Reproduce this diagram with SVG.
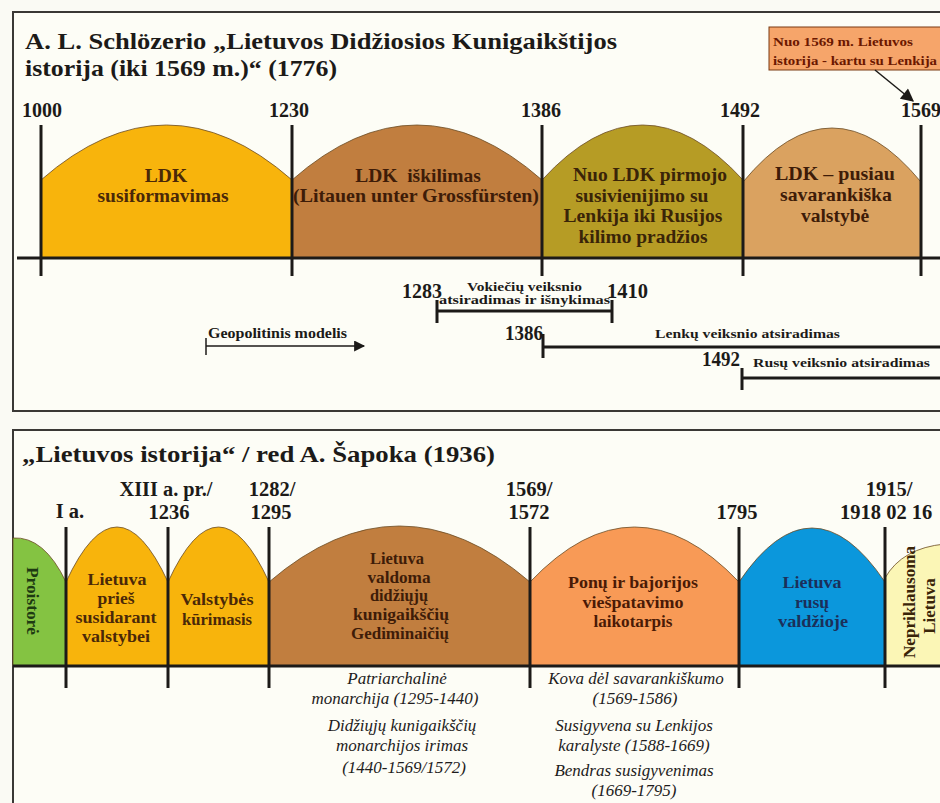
<svg xmlns="http://www.w3.org/2000/svg" width="940" height="803" viewBox="0 0 940 803">
<defs>
<style>
.t{font-family:"Liberation Serif","Times New Roman",serif;font-weight:bold;}
.ttl{font-size:24px;fill:#1c1a18;}
.yr{font-size:20px;fill:#1c1a18;}
.yb{font-size:20.5px;fill:#1c1a18;}
.at{font-size:19.5px;text-anchor:middle;}
.bt{font-size:17.5px;text-anchor:middle;}
.bs{font-size:16px;text-anchor:middle;}
.sm{font-size:11.5px;fill:#1c1a18;}
.it{font-family:"Liberation Serif","Times New Roman",serif;font-style:italic;font-size:17px;fill:#1e1c1c;text-anchor:middle;}
.ln{stroke:#1c1a18;stroke-width:3;fill:none;}
.thin{stroke:#1c1a18;stroke-width:1.5;fill:none;}
.arch{stroke:#6a4a22;stroke-width:0.8;}
.panel{fill:#fdfdf6;stroke:#3a3835;stroke-width:2;}
</style>
<marker id="ah" viewBox="0 0 10 10" refX="9" refY="5" markerWidth="14" markerHeight="13" markerUnits="userSpaceOnUse" orient="auto">
<path d="M0,0 L10,5 L0,10 Z" fill="#1c1a18"/>
</marker>
<marker id="ah2" viewBox="0 0 10 10" refX="9" refY="5" markerWidth="13" markerHeight="11" markerUnits="userSpaceOnUse" orient="auto">
<path d="M0,0 L10,5 L0,10 Z" fill="#1c1a18"/>
</marker>
</defs>
<rect x="0" y="0" width="940" height="803" fill="#fafaf4"/>

<!-- Panel 1 -->
<g id="panel-schlozer">
<rect class="panel" x="13" y="12" width="940" height="399"/>
<text class="t ttl" x="25" y="49" textLength="592" lengthAdjust="spacingAndGlyphs">A. L. Schlözerio „Lietuvos Didžiosios Kunigaikštijos</text>
<text class="t ttl" x="25" y="76" textLength="312" lengthAdjust="spacingAndGlyphs">istorija (iki 1569 m.)“ (1776)</text>
</g>

<g id="node-callout">
<rect x="769" y="27" width="175" height="43" fill="#f6a56a" stroke="#7a3a12" stroke-width="1"/>
<text class="t" x="773" y="46" font-size="12.5" fill="#6b1800" textLength="140" lengthAdjust="spacingAndGlyphs">Nuo 1569 m. Lietuvos</text>
<text class="t" x="773" y="65" font-size="12.5" fill="#6b1800" textLength="164" lengthAdjust="spacingAndGlyphs">istorija - kartu su Lenkija</text>
</g>

<g id="node-ldk-susiformavimas">
<path class="arch" d="M41,258 V180 Q166.5,70 292,180 V258 Z" fill="#f8b40c"/>
<text class="t at" x="166" y="182" fill="#4a2808">LDK</text>
<text class="t at" x="163" y="202" fill="#4a2808" textLength="131" lengthAdjust="spacingAndGlyphs">susiformavimas</text>
</g>
<g id="node-ldk-iskilimas">
<path class="arch" d="M292,258 V180 Q417,70 542,180 V258 Z" fill="#c17e3f"/>
<text class="t at" x="418" y="182" fill="#3e1c08" xml:space="preserve">LDK  iškilimas</text>
<text class="t at" x="416" y="202" fill="#3e1c08" textLength="246" lengthAdjust="spacingAndGlyphs">(Litauen unter Grossfürsten)</text>
</g>
<g id="node-nuo-ldk">
<path class="arch" d="M542,258 V180 Q642.5,70 743,180 V258 Z" fill="#b69c25"/>
<text class="t at" x="650" y="181" fill="#3a2408" textLength="154" lengthAdjust="spacingAndGlyphs">Nuo LDK pirmojo</text>
<text class="t at" x="642" y="202" fill="#3a2408" textLength="133" lengthAdjust="spacingAndGlyphs">susivienijimo su</text>
<text class="t at" x="643" y="222" fill="#3a2408" textLength="159" lengthAdjust="spacingAndGlyphs">Lenkija iki Rusijos</text>
<text class="t at" x="643" y="243" fill="#3a2408" textLength="129" lengthAdjust="spacingAndGlyphs">kilimo pradžios</text>
</g>
<g id="node-pusiau">
<path class="arch" d="M743,258 V182 Q832,74 921,182 V258 Z" fill="#daa260"/>
<text class="t at" x="835" y="180" fill="#3e1c08" textLength="120" lengthAdjust="spacingAndGlyphs">LDK – pusiau</text>
<text class="t at" x="836" y="201" fill="#3e1c08" textLength="112" lengthAdjust="spacingAndGlyphs">savarankiška</text>
<text class="t at" x="835" y="222" fill="#3e1c08">valstybė</text>
</g>

<g id="labels-years-top">
<text class="t yr" x="42" y="117" text-anchor="middle">1000</text>
<text class="t yr" x="289" y="117" text-anchor="middle">1230</text>
<text class="t yr" x="541" y="117" text-anchor="middle">1386</text>
<text class="t yr" x="740" y="117" text-anchor="middle">1492</text>
<text class="t yr" x="921" y="117" text-anchor="middle">1569</text>
</g>

<g id="node-vokieciu">
<text class="t yr" x="402" y="298" textLength="40" lengthAdjust="spacingAndGlyphs">1283</text>
<text class="t sm" x="467" y="291" textLength="115" lengthAdjust="spacingAndGlyphs">Vokiečių veiksnio</text>
<text class="t sm" x="439" y="304" textLength="171" lengthAdjust="spacingAndGlyphs">atsiradimas ir išnykimas</text>
<text class="t yr" x="607" y="298" textLength="41" lengthAdjust="spacingAndGlyphs">1410</text>
</g>
<g id="node-lenku">
<text class="t yr" x="505" y="340" textLength="38" lengthAdjust="spacingAndGlyphs">1386</text>
<text class="t sm" x="655" y="338" font-size="12" textLength="185" lengthAdjust="spacingAndGlyphs">Lenkų veiksnio atsiradimas</text>
</g>
<g id="node-rusu">
<text class="t yr" x="702" y="366" textLength="38" lengthAdjust="spacingAndGlyphs">1492</text>
<text class="t sm" x="753" y="367" font-size="12" textLength="177" lengthAdjust="spacingAndGlyphs">Rusų veiksnio atsiradimas</text>
</g>
<g id="node-geopolitinis">
<text class="t" x="208" y="338" font-size="14.5" fill="#1c1a18" textLength="139" lengthAdjust="spacingAndGlyphs">Geopolitinis modelis</text>
</g>

<!-- Panel 2 -->
<g id="panel-sapoka">
<rect class="panel" x="13" y="430" width="940" height="390"/>
<text class="t ttl" x="22" y="462" textLength="473" lengthAdjust="spacingAndGlyphs">„Lietuvos istorija“ / red A. Šapoka (1936)</text>
</g>

<g id="node-proistore">
<path class="arch" d="M13,666 V538 Q44,536 66,582 V666 Z" fill="#84c342"/>
<text class="t" transform="translate(27,601) rotate(90)" font-size="17" fill="#1e3a12" text-anchor="middle" textLength="68" lengthAdjust="spacingAndGlyphs">Proistorė</text>
</g>
<g id="node-pries-valstybe">
<path class="arch" d="M66,666 V582 Q117,472 168,582 V666 Z" fill="#f8b40c"/>
<text class="t bt" x="117" y="585" fill="#4a2808" textLength="59" lengthAdjust="spacingAndGlyphs">Lietuva</text>
<text class="t bt" x="116" y="604" fill="#4a2808">prieš</text>
<text class="t bt" x="116" y="623" fill="#4a2808" textLength="81" lengthAdjust="spacingAndGlyphs">susidarant</text>
<text class="t bt" x="116" y="642" fill="#4a2808" textLength="68" lengthAdjust="spacingAndGlyphs">valstybei</text>
</g>
<g id="node-valstybes-kurimasis">
<path class="arch" d="M168,666 V582 Q218.5,472 269,582 V666 Z" fill="#f8b40c"/>
<text class="t bt" x="217" y="605" fill="#4a2808" textLength="73" lengthAdjust="spacingAndGlyphs">Valstybės</text>
<text class="t bt" x="217" y="625" fill="#4a2808" textLength="70" lengthAdjust="spacingAndGlyphs">kūrimasis</text>
</g>
<g id="node-gediminaiciai">
<path class="arch" d="M269,666 V582 Q399.5,470 530,582 V666 Z" fill="#c17e3f"/>
<text class="t bs" x="397" y="564" fill="#3e1c08" textLength="54" lengthAdjust="spacingAndGlyphs">Lietuva</text>
<text class="t bs" x="399" y="583" fill="#3e1c08" textLength="63" lengthAdjust="spacingAndGlyphs">valdoma</text>
<text class="t bs" x="399" y="601" fill="#3e1c08" textLength="58" lengthAdjust="spacingAndGlyphs">didžiųjų</text>
<text class="t bs" x="401" y="620" fill="#3e1c08" textLength="96" lengthAdjust="spacingAndGlyphs">kunigaikščių</text>
<text class="t bs" x="400" y="639" fill="#3e1c08" textLength="98" lengthAdjust="spacingAndGlyphs">Gediminaičių</text>
</g>
<g id="node-ponu-bajorijos">
<path class="arch" d="M530,666 V582 Q634.5,472 739,582 V666 Z" fill="#f89a56"/>
<text class="t bt" x="633" y="588" fill="#4a1a06" textLength="130" lengthAdjust="spacingAndGlyphs">Ponų ir bajorijos</text>
<text class="t bt" x="633" y="608" fill="#4a1a06" textLength="101" lengthAdjust="spacingAndGlyphs">viešpatavimo</text>
<text class="t bt" x="633" y="627" fill="#4a1a06" textLength="79" lengthAdjust="spacingAndGlyphs">laikotarpis</text>
</g>
<g id="node-rusu-valdzioje">
<path class="arch" d="M739,666 V582 Q812,474 885,582 V666 Z" fill="#0b97dc"/>
<text class="t bt" x="812" y="588" fill="#1b2f5a" textLength="59" lengthAdjust="spacingAndGlyphs">Lietuva</text>
<text class="t bt" x="812" y="608" fill="#1b2f5a">rusų</text>
<text class="t bt" x="813" y="627" fill="#1b2f5a" textLength="70" lengthAdjust="spacingAndGlyphs">valdžioje</text>
</g>
<g id="node-nepriklausoma">
<path class="arch" d="M885,666 V578 Q902,548 945,544 V666 Z" fill="#fbf6b6"/>
<text class="t" transform="translate(915,602) rotate(-90)" font-size="17" fill="#3a2408" text-anchor="middle" textLength="112" lengthAdjust="spacingAndGlyphs">Nepriklausoma</text>
<text class="t" transform="translate(935,606) rotate(-90)" font-size="17" fill="#3a2408" text-anchor="middle">Lietuva</text>
</g>

<g id="labels-years-bottom">
<text class="t yb" x="70" y="518" text-anchor="middle">I a.</text>
<text class="t yb" x="166" y="496" text-anchor="middle" textLength="93" lengthAdjust="spacingAndGlyphs">XIII a. pr./</text>
<text class="t yb" x="169" y="519" text-anchor="middle">1236</text>
<text class="t yb" x="272" y="496" text-anchor="middle">1282/</text>
<text class="t yb" x="271" y="519" text-anchor="middle">1295</text>
<text class="t yb" x="529" y="496" text-anchor="middle">1569/</text>
<text class="t yb" x="529" y="519" text-anchor="middle">1572</text>
<text class="t yb" x="737" y="519" text-anchor="middle">1795</text>
<text class="t yb" x="889" y="496" text-anchor="middle">1915/</text>
<text class="t yb" x="840" y="519">1918 02 16</text>
</g>

<g id="node-gediminaiciai-periods">
<text class="it" x="397" y="684">Patriarchalinė</text>
<text class="it" x="395" y="704">monarchija (1295-1440)</text>
<text class="it" x="402" y="731">Didžiųjų kunigaikščių</text>
<text class="it" x="402" y="751">monarchijos irimas</text>
<text class="it" x="404" y="773">(1440-1569/1572)</text>
</g>
<g id="node-ponu-periods">
<text class="it" x="636" y="684">Kova dėl savarankiškumo</text>
<text class="it" x="635" y="704">(1569-1586)</text>
<text class="it" x="634" y="731">Susigyvena su Lenkijos</text>
<text class="it" x="634" y="751">karalyste (1588-1669)</text>
<text class="it" x="634" y="776">Bendras susigyvenimas</text>
<text class="it" x="634" y="796">(1669-1795)</text>
</g>

<g id="connectors">
<line class="ln" x1="17" y1="258" x2="940" y2="258"/>
<line class="ln" x1="41" y1="125" x2="41" y2="276"/>
<line class="ln" x1="292" y1="125" x2="292" y2="276"/>
<line class="ln" x1="542" y1="125" x2="542" y2="276"/>
<line class="ln" x1="743" y1="125" x2="743" y2="276"/>
<line class="ln" x1="921" y1="125" x2="921" y2="276"/>
<line class="thin" x1="875" y1="70" x2="913" y2="101" marker-end="url(#ah)"/>
<path class="ln" d="M437,300 V323 M437,311 H612 M612,300 V323"/>
<path class="ln" d="M543,334 V358 M543,347 H940"/>
<path class="ln" d="M742,368 V390 M742,378 H940"/>
<line class="thin" x1="206" y1="338" x2="206" y2="355"/>
<line class="thin" x1="206" y1="346" x2="364" y2="346" marker-end="url(#ah2)"/>
<line class="ln" x1="13" y1="666" x2="940" y2="666"/>
<line class="ln" x1="66" y1="527" x2="66" y2="688"/>
<line class="ln" x1="168" y1="527" x2="168" y2="688"/>
<line class="ln" x1="269" y1="527" x2="269" y2="688"/>
<line class="ln" x1="530" y1="527" x2="530" y2="688"/>
<line class="ln" x1="739" y1="527" x2="739" y2="688"/>
<line class="ln" x1="885" y1="527" x2="885" y2="688"/>
</g>
</svg>
